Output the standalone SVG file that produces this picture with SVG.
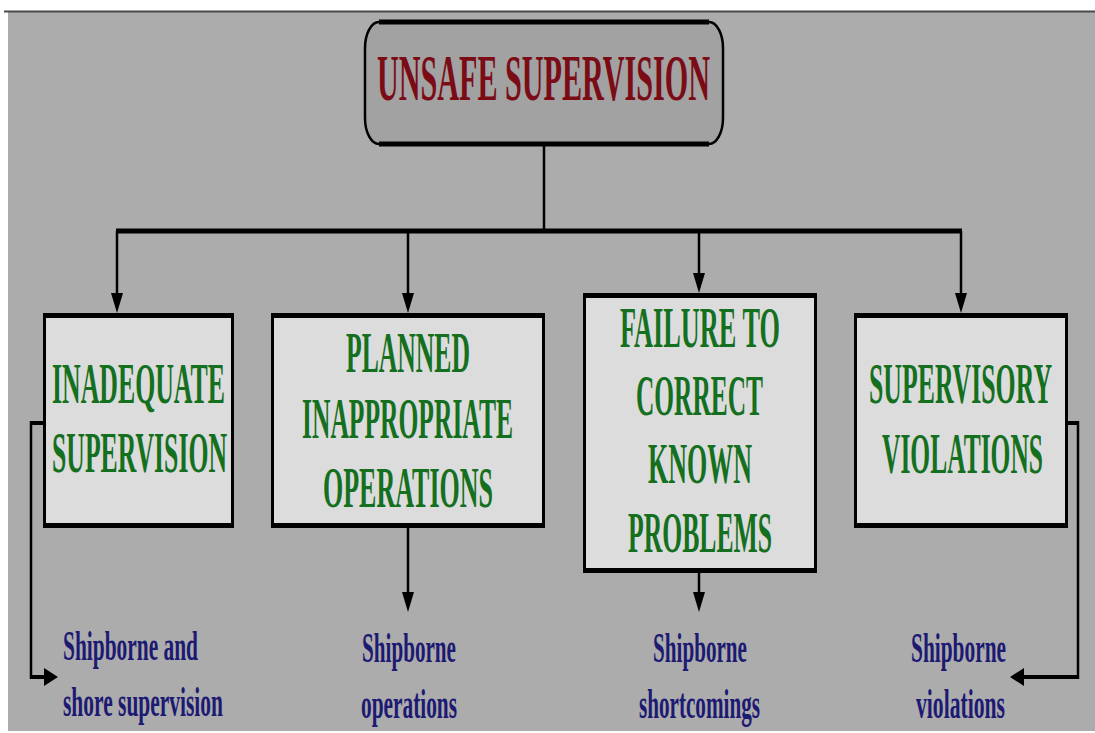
<svg xmlns="http://www.w3.org/2000/svg" width="1095" height="733" viewBox="0 0 1095 733">
  <style>
    .bg { fill: #acacac; }
    .box { fill: #dcdcdc; stroke: #000; stroke-width: 3; }
    .edge { stroke: #000; stroke-width: 5; fill: none; }
    .vline { stroke: #000; stroke-width: 2.5; fill: none; }
    .hline { stroke: #000; stroke-width: 4; fill: none; }
    .title { font-family: "Liberation Serif", "Times New Roman", serif; font-weight: bold; font-size: 66px; fill: #7b0c16; text-anchor: middle; }
    .cat { font-family: "Liberation Serif", "Times New Roman", serif; font-weight: bold; font-size: 57px; fill: #14701e; text-anchor: middle; }
    .leaf { font-family: "Liberation Serif", "Times New Roman", serif; font-weight: bold; font-size: 43px; fill: #1c1a72; text-anchor: middle; }
  </style>
  <defs>
    <marker id="arrowV" markerUnits="userSpaceOnUse" viewBox="0 0 20 12" markerWidth="20" markerHeight="12" refX="12" refY="6" orient="auto">
      <path d="M0,0 L20,6 L0,12 Z" fill="#000"/>
    </marker>
    <marker id="arrowH" markerUnits="userSpaceOnUse" viewBox="0 0 14 18" markerWidth="14" markerHeight="18" refX="6" refY="9" orient="auto">
      <path d="M0,0 L14,9 L0,18 Z" fill="#000"/>
    </marker>
  </defs>

  <!-- page frame -->
  <rect x="0" y="0" width="1095" height="733" fill="#ffffff"/>
  <rect class="bg" x="8" y="12" width="1087" height="719"/>
  <line x1="4" y1="11.5" x2="1095" y2="11.5" stroke="#4a4a4a" stroke-width="2"/>

  <!-- connectors -->
  <g id="connectors">
    <line class="vline" x1="544" y1="146" x2="544" y2="231"/>
    <line x1="116" y1="231" x2="962" y2="231" stroke="#000" stroke-width="5"/>
    <line class="vline" x1="117" y1="231" x2="117" y2="305" marker-end="url(#arrowV)"/>
    <line class="vline" x1="408" y1="231" x2="408" y2="305" marker-end="url(#arrowV)"/>
    <line class="vline" x1="699" y1="231" x2="699" y2="285" marker-end="url(#arrowV)"/>
    <line class="vline" x1="961" y1="231" x2="961" y2="305" marker-end="url(#arrowV)"/>
    <line class="vline" x1="408" y1="528" x2="408" y2="604" marker-end="url(#arrowV)"/>
    <line class="vline" x1="699" y1="573" x2="699" y2="604" marker-end="url(#arrowV)"/>
    <!-- side branch: inadequate supervision -->
    <line class="hline" x1="44" y1="423" x2="30" y2="423"/>
    <line class="vline" x1="31" y1="421" x2="31" y2="679"/>
    <line class="hline" x1="30" y1="677" x2="50" y2="677" marker-end="url(#arrowH)"/>
    <!-- side branch: supervisory violations -->
    <line class="hline" x1="1067" y1="423" x2="1079" y2="423"/>
    <line class="vline" x1="1078" y1="421" x2="1078" y2="679"/>
    <line class="hline" x1="1079" y1="677" x2="1018" y2="677" marker-end="url(#arrowH)"/>
  </g>

  <!-- root node -->
  <g id="unsafe-supervision">
    <path d="M379,22 H709 A14,26 0 0 1 723,48 V118 A14,26 0 0 1 709,144 H379 A14,26 0 0 1 365,118 V48 A14,26 0 0 1 379,22 Z" fill="#a2a2a2" stroke="#000" stroke-width="2.5"/>
    <line class="edge" x1="379" y1="22" x2="709" y2="22" stroke-width="4.5"/>
    <line class="edge" x1="379" y1="144" x2="709" y2="144" stroke-width="4.5"/>
    <text class="title" x="543.5" y="100" textLength="333" lengthAdjust="spacingAndGlyphs">UNSAFE SUPERVISION</text>
  </g>

  <!-- category nodes -->
  <g id="inadequate-supervision">
    <rect class="box" x="44.5" y="315" width="188" height="211"/>
    <line class="edge" x1="43" y1="315.5" x2="234" y2="315.5"/>
    <line class="edge" x1="43" y1="525.5" x2="234" y2="525.5"/>
    <text class="cat" x="138.5" y="403" textLength="173" lengthAdjust="spacingAndGlyphs">INADEQUATE</text>
    <text class="cat" x="139.5" y="472" textLength="175" lengthAdjust="spacingAndGlyphs">SUPERVISION</text>
  </g>

  <g id="planned-inappropriate-operations">
    <rect class="box" x="272.5" y="315" width="271" height="211"/>
    <line class="edge" x1="271" y1="315.5" x2="545" y2="315.5"/>
    <line class="edge" x1="271" y1="525.5" x2="545" y2="525.5"/>
    <text class="cat" x="408" y="372" textLength="124" lengthAdjust="spacingAndGlyphs">PLANNED</text>
    <text class="cat" x="407.5" y="438" textLength="211" lengthAdjust="spacingAndGlyphs">INAPPROPRIATE</text>
    <text class="cat" x="408" y="507" textLength="170" lengthAdjust="spacingAndGlyphs">OPERATIONS</text>
  </g>

  <g id="failure-to-correct-known-problems">
    <rect class="box" x="584.5" y="295.5" width="231" height="275"/>
    <line class="edge" x1="583" y1="295.5" x2="817" y2="295.5"/>
    <line class="edge" x1="583" y1="570.5" x2="817" y2="570.5"/>
    <text class="cat" x="700" y="347" textLength="160" lengthAdjust="spacingAndGlyphs">FAILURE TO</text>
    <text class="cat" x="699.5" y="415" textLength="127" lengthAdjust="spacingAndGlyphs">CORRECT</text>
    <text class="cat" x="700" y="483" textLength="104" lengthAdjust="spacingAndGlyphs">KNOWN</text>
    <text class="cat" x="700" y="552" textLength="144" lengthAdjust="spacingAndGlyphs">PROBLEMS</text>
  </g>

  <g id="supervisory-violations">
    <rect class="box" x="855.5" y="315" width="211" height="211"/>
    <line class="edge" x1="854" y1="315.5" x2="1068" y2="315.5"/>
    <line class="edge" x1="854" y1="525.5" x2="1068" y2="525.5"/>
    <text class="cat" x="960.5" y="403" textLength="183" lengthAdjust="spacingAndGlyphs">SUPERVISORY</text>
    <text class="cat" x="962.5" y="473" textLength="161" lengthAdjust="spacingAndGlyphs">VIOLATIONS</text>
  </g>

  <!-- leaf labels -->
  <g id="shipborne-shore-supervision">
    <text class="leaf" x="130.5" y="660" textLength="135" lengthAdjust="spacingAndGlyphs">Shipborne and</text>
    <text class="leaf" x="143" y="716" textLength="160" lengthAdjust="spacingAndGlyphs">shore supervision</text>
  </g>
  <g id="shipborne-operations">
    <text class="leaf" x="409" y="662" textLength="94" lengthAdjust="spacingAndGlyphs">Shipborne</text>
    <text class="leaf" x="409" y="718" textLength="96" lengthAdjust="spacingAndGlyphs">operations</text>
  </g>
  <g id="shipborne-shortcomings">
    <text class="leaf" x="700" y="662" textLength="94" lengthAdjust="spacingAndGlyphs">Shipborne</text>
    <text class="leaf" x="699.5" y="718" textLength="121" lengthAdjust="spacingAndGlyphs">shortcomings</text>
  </g>
  <g id="shipborne-violations">
    <text class="leaf" x="958.5" y="662" textLength="95" lengthAdjust="spacingAndGlyphs">Shipborne</text>
    <text class="leaf" x="960.5" y="718" textLength="89" lengthAdjust="spacingAndGlyphs">violations</text>
  </g>
</svg>
